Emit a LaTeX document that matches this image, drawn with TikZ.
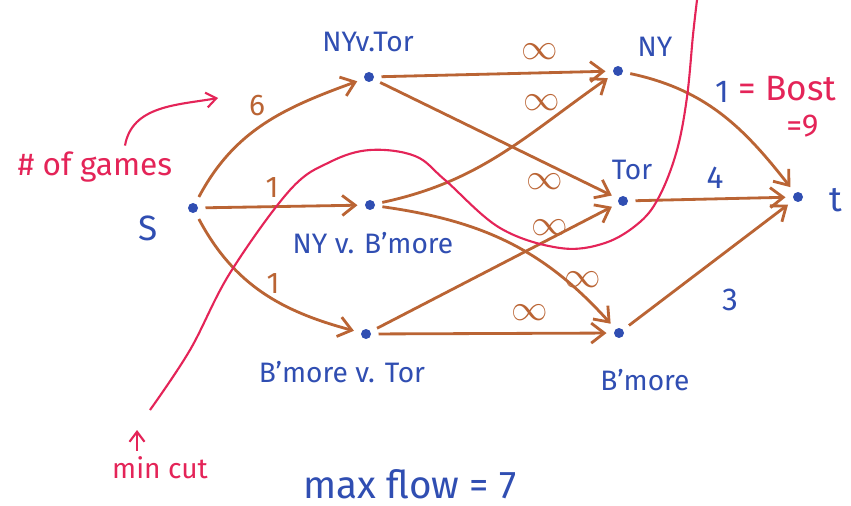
\documentclass[tikz,border=0pt]{standalone}
\usepackage{fontspec}
\setmainfont{Fira Sans}
\usetikzlibrary{arrows.meta}
\definecolor{marker}{RGB}{186,100,52}
\definecolor{ink}{RGB}{48,78,178}
\definecolor{pen}{RGB}{228,36,88}

\tikzset{
  dot/.style={circle,fill=ink,inner sep=0pt,minimum size=0.2cm,outer sep=0.15cm},
  lbl/.style={text=ink,font=\fontsize{16}{18}\selectfont},
  capacity/.style={text=marker,font=\fontsize{17}{18}\selectfont},
  inf/.style={text=marker,font=\fontsize{22}{24}\selectfont},
  note/.style={text=pen,font=\fontsize{16}{18}\selectfont},
  flow/.style={draw=marker,line width=1.6pt,-{Straight Barb[length=2.6mm,width=4mm]}},
  cutline/.style={draw=pen,line width=1.2pt},
  pointer/.style={draw=pen,line width=1.2pt,-{Straight Barb[length=2mm,width=3mm]}}
}

\begin{document}
\begin{tikzpicture}[x=0.02cm,y=0.02cm]
  \fill[white] (0,0) rectangle (851,-506);
  \useasboundingbox (0,0) rectangle (851,-506);

  % vertices
  \node[dot] (s) at (193,-208) {};
  \node[dot] (nvt) at (369,-77) {};
  \node[dot] (nvb) at (370,-205) {};
  \node[dot] (bvt) at (366,-334) {};
  \node[dot] (ny) at (618,-71) {};
  \node[dot] (tor) at (623,-201) {};
  \node[dot] (bm) at (619,-333) {};
  \node[dot] (t) at (798,-197) {};

  \node[lbl,font=\fontsize{20}{22}\selectfont] (sname) at (148,-228) {S};
  \node[lbl] (nvtname) at (368,-42) {NYv.Tor};
  \node[lbl] (nvbname) at (373,-243) {NY v. B’more};
  \node[lbl] (bvtname) at (342,-372) {B’more v. Tor};
  \node[lbl] (nyname) at (655,-47) {NY};
  \node[lbl] (torname) at (632,-170) {Tor};
  \node[lbl] (bmname) at (645,-380) {B’more};
  \node[lbl,font=\fontsize{20}{22}\selectfont] (tname) at (836,-200) {t};

  % edges
  \draw[flow] (s) to[out=62,in=200] (nvt);
  \draw[flow] (s) -- (nvb);
  \draw[flow] (s) to[out=-62,in=165] (bvt);
  \draw[flow] (nvt) -- (ny);
  \draw[flow] (nvt) -- (tor);
  \draw[flow] (nvb) to[out=12,in=215] (ny);
  \draw[flow] (nvb) to[out=-8,in=132] (bm);
  \draw[flow] (bvt) -- (tor);
  \draw[flow] (bvt) -- (bm);
  \draw[flow] (ny) to[out=-12,in=128] (t);
  \draw[flow] (tor) -- (t);
  \draw[flow] (bm) -- (t);

  % capacities
  \node[capacity] (c6) at (257,-106) {6};
  \node[capacity] (c1a) at (272,-188) {1};
  \node[capacity] (c1b) at (273,-284) {1};
  \node[inf] (i1) at (540,-52) {$\infty$};
  \node[inf] (i2) at (542,-103) {$\infty$};
  \node[inf] (i3) at (545,-182) {$\infty$};
  \node[inf] (i4) at (550,-228) {$\infty$};
  \node[inf] (i5) at (583,-280) {$\infty$};
  \node[inf] (i6) at (530,-313) {$\infty$};
  \node[lbl,font=\fontsize{18}{20}\selectfont] (c1) at (722,-92) {1};
  \node[lbl,font=\fontsize{18}{20}\selectfont] (c4) at (715,-178) {4};
  \node[lbl,font=\fontsize{18}{20}\selectfont] (c3) at (730,-300) {3};

  % notes
  \node[note,font=\fontsize{20}{22}\selectfont,anchor=west,inner sep=0pt] (boston) at (738,-89) {= Bost};
  \node[note,font=\fontsize{18}{20}\selectfont,anchor=west,inner sep=0pt] (nine) at (786,-126) {=9};
  \node[note,font=\fontsize{18}{20}\selectfont] (games) at (95,-167) {\# of games};
  \coordinate (gtip) at (218,-98);
  \draw[pointer] ([xshift=0.6cm]games.north) to[out=80,in=190] (gtip);

  \draw[cutline] plot[smooth,tension=0.6] coordinates {(150,-410) (190,-350) (230,-273)
    (290,-190) (330,-162) (370,-150) (415,-156) (445,-180) (500,-228) (560,-248)
    (605,-243) (640,-222) (660,-195) (677,-150) (687,-97) (693,-35) (697,0)};
  \node[note] (mincut) at (160,-468) {min cut};
  \coordinate (mctip) at (137,-430);
  \draw[pointer] (mincut.north -| mctip) -- (mctip);

  \node[lbl,font=\fontsize{22}{24}\selectfont,inner sep=0pt] (maxflow) at (410,-484) {max flow = 7};
\end{tikzpicture}
\end{document}
